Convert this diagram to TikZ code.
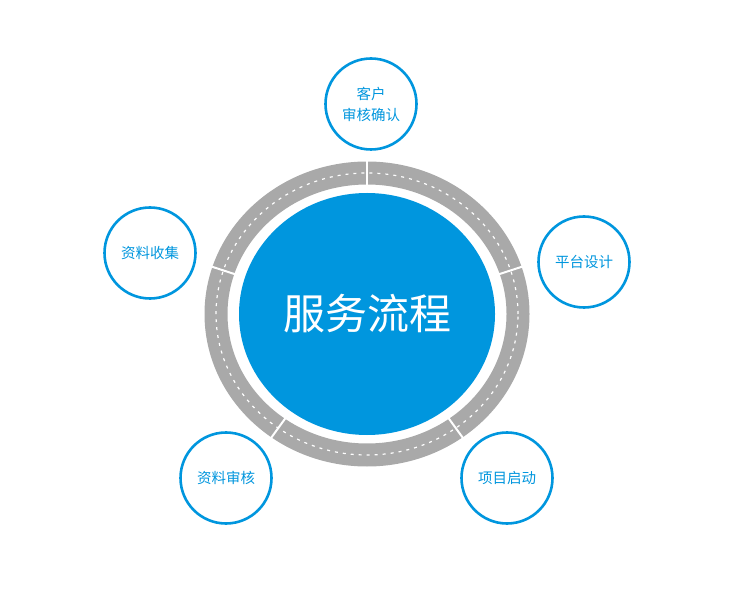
\documentclass[tikz,border=0pt]{standalone}
\usepackage{fontspec}
\setmainfont{Noto Sans CJK SC}
\usetikzlibrary{shapes.geometric}

\definecolor{flowblue}{HTML}{0096DE}
\definecolor{roadgray}{HTML}{A9A9A9}

\tikzset{
  stage/.style={circle, draw=flowblue, line width=2.6pt, fill=white,
    minimum size=91pt, inner sep=0pt, text=flowblue, align=center,
    font=\fontsize{14.5}{21}\selectfont},
}

\begin{document}
\begin{tikzpicture}[x=1pt, y=1pt]
    \useasboundingbox (0,0) rectangle (730,600);
    \coordinate (C) at (367,286);

    % road ring round the hub
    \draw[roadgray, line width=23pt] (C) ellipse [x radius=151, y radius=141];
    \draw[white, line width=1.2pt, dash pattern=on 3pt off 5pt] (C) ellipse [x radius=151, y radius=141];
    \foreach \a in {18,90,162,234,306}
        \draw[white, line width=2pt] ([shift={(\a:138 and 128)}]C) -- ([shift={(\a:164 and 154)}]C);

    \node (hub) [ellipse, fill=flowblue, minimum width=256pt, minimum height=242pt, inner sep=0pt,
        text=white, font=\fontsize{42}{42}\selectfont] at (C) {\raisebox{-3pt}{服务流程}};

    \node (confirm) [stage] at (371,496) {客户\\审核确认};
    \node (design) [stage] at (584,338) {平台设计};
    \node (start) [stage] at (507,122) {项目启动};
    \node (review) [stage] at (226,122) {资料审核};
    \node (collect) [stage] at (150,347) {资料收集};
\end{tikzpicture}
\end{document}
